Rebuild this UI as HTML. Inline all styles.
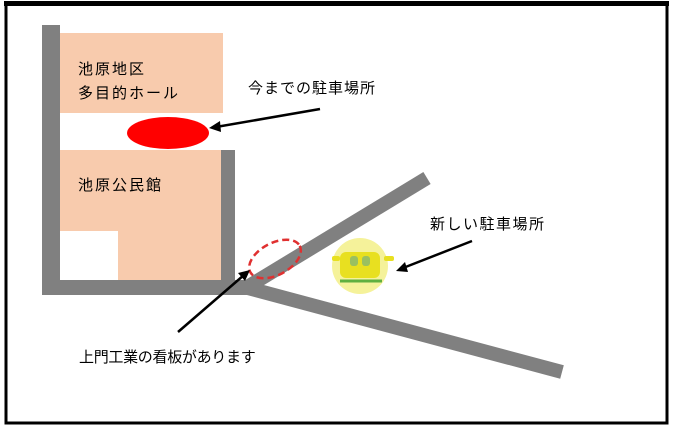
<!DOCTYPE html>
<html><head><meta charset="utf-8"><style>
body{margin:0;background:#fff;}
svg{display:block;}
text{font-family:"Liberation Sans","Noto Sans CJK JP",sans-serif;font-size:15px;fill:#000;}
</style></head><body>
<svg width="674" height="431" viewBox="0 0 674 431" xmlns="http://www.w3.org/2000/svg">
<rect x="6" y="4" width="661" height="419" fill="none" stroke="#000" stroke-width="3"/>
<rect x="4" y="1" width="665" height="5" fill="#000"/>
<rect x="60" y="33" width="163" height="80" fill="#f8cbad"/>
<rect x="60" y="150" width="162" height="130" fill="#f8cbad"/>
<rect x="60" y="231" width="58" height="49" fill="#fff"/>
<rect x="42" y="25" width="18" height="270" fill="#808080"/>
<rect x="42" y="280" width="208" height="15" fill="#808080"/>
<rect x="221" y="150" width="14" height="145" fill="#808080"/>
<line x1="244" y1="289" x2="427" y2="178" stroke="#808080" stroke-width="14"/>
<line x1="244" y1="287" x2="562" y2="372" stroke="#808080" stroke-width="14"/>
<ellipse cx="168" cy="133" rx="41" ry="16" fill="#ff0000"/>
<ellipse cx="275" cy="259" rx="28" ry="16" transform="rotate(-28 275 259)" fill="none" stroke="#e03030" stroke-width="2.5" stroke-dasharray="7,4"/>
<circle cx="360" cy="266" r="28" fill="#f5f29a"/>
<rect x="332" y="256" width="8" height="5" rx="2" fill="#e8e020"/>
<rect x="384" y="256" width="10" height="5" rx="2" fill="#e8e020"/>
<rect x="340" y="252" width="40" height="26" rx="6" fill="#e8e020"/>
<rect x="350" y="256" width="8" height="10" rx="3" fill="#9ac060"/>
<rect x="362" y="256" width="8" height="10" rx="3" fill="#9ac060"/>
<line x1="340" y1="281" x2="382" y2="281" stroke="#60b040" stroke-width="3"/>
<g stroke="#000" stroke-width="2.5" fill="#000">
<line x1="320" y1="109" x2="216" y2="127"/>
<polygon points="209,128 220,121 221,132" stroke="none"/>
<line x1="472" y1="241" x2="403" y2="268"/>
<polygon points="396,271 405,262 408,272" stroke="none"/>
<line x1="178" y1="332" x2="244" y2="275"/>
<polygon points="250,270 245,281 238,273" stroke="none"/>
</g>
<text x="78" y="74" letter-spacing="2">池原地区</text>
<text x="78" y="98" letter-spacing="2">多目的ホール</text>
<text x="78" y="190" letter-spacing="2">池原公民館</text>
<text x="248" y="93" letter-spacing="1">今までの駐車場所</text>
<text x="430" y="229" letter-spacing="1.5">新しい駐車場所</text>
<text x="79" y="362" font-size="14" letter-spacing="-0.3">上門工業の看板があります</text>
</svg>
</body></html>
